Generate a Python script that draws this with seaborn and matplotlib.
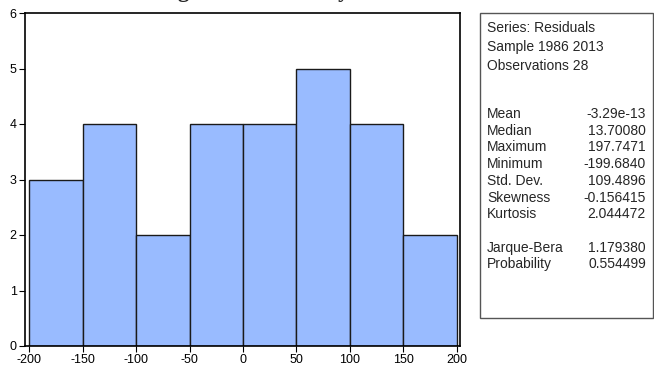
import matplotlib
matplotlib.use("Agg")
import matplotlib.pyplot as plt
import seaborn as sns
import numpy as np

# Residual histogram: bin edges and counts per bin
bin_edges = [-200, -150, -100, -50, 0, 50, 100, 150, 200]
bin_counts = [3, 4, 2, 4, 4, 5, 4, 2]
x_ticks = [-200, -150, -100, -50, 0, 50, 100, 150, 200]
y_ticks = [0, 1, 2, 3, 4, 5, 6]

# Descriptive statistics panel
header_lines = ["Series: Residuals", "Sample 1986 2013", "Observations 28"]
stat_names = ["Mean", "Median", "Maximum", "Minimum", "Std. Dev.",
              "Skewness", "Kurtosis"]
stat_values = ["-3.29e-13", "13.70080", "197.7471", "-199.6840",
               "109.4896", "-0.156415", "2.044472"]
test_names = ["Jarque-Bera", "Probability"]
test_values = ["1.179380", "0.554499"]

title_text = "Histogram - Normality Test"

sns.set_theme(style="white")
plt.rcParams["font.family"] = ["Liberation Sans", "DejaVu Sans"]
plt.rcParams["axes.unicode_minus"] = False

W, H = 654, 372
fig = plt.figure(figsize=(W / 100, H / 100), dpi=100)


def fx(px):
    return px / W


def fy(py):
    return 1 - py / H


ax = fig.add_axes([fx(25), fy(346), fx(460) - fx(25), fy(13) - fy(346)])

centers = [(a + b) / 2 for a, b in zip(bin_edges[:-1], bin_edges[1:])]
sns.histplot(x=centers, weights=bin_counts, bins=bin_edges, ax=ax,
             color="#99BBFF", alpha=1.0, edgecolor="#1a1a1a", linewidth=1.0)

ax.set_xlim(-204, 203)
ax.set_ylim(0, 6)
ax.set_xticks(x_ticks)
ax.set_yticks(y_ticks)
ax.set_xlabel("")
ax.set_ylabel("")
ax.tick_params(axis="both", direction="out", length=4, width=0.8,
               color="black", labelsize=9, pad=2, labelcolor="black",
               bottom=True, left=True)
for sp in ax.spines.values():
    sp.set_color("black")
    sp.set_linewidth(1.2)
    sp.set_visible(True)
ax.grid(False)

# Title: only its descenders fall inside the figure
fig.text(fx(260), fy(-2.5), title_text, ha="center", va="baseline",
         fontsize=16.5, fontweight="bold", family=["Liberation Serif", "DejaVu Serif"])

# Statistics box
box = plt.Rectangle((fx(480), fy(318)), fx(653) - fx(480), fy(13) - fy(318),
                    transform=fig.transFigure, fill=False,
                    edgecolor="#555555", linewidth=1.0)
fig.add_artist(box)

fam = ["Liberation Sans", "DejaVu Sans"]
fs = 10
tx_left = fx(487)
tx_right = fx(646)
header_y = [28, 47, 66]
step = 16.7
for yy, line in zip(header_y, header_lines):
    fig.text(tx_left, fy(yy), line, ha="left", va="center",
             fontsize=fs, family=fam)
y1 = 114
for i, (n, v) in enumerate(zip(stat_names, stat_values)):
    fig.text(tx_left, fy(y1 + i * step), n, ha="left", va="center",
             fontsize=fs, family=fam)
    fig.text(tx_right, fy(y1 + i * step), v, ha="right", va="center",
             fontsize=fs, family=fam)
y2 = y1 + (len(stat_names) + 1) * step
for i, (n, v) in enumerate(zip(test_names, test_values)):
    fig.text(tx_left, fy(y2 + i * step), n, ha="left", va="center",
             fontsize=fs, family=fam)
    fig.text(tx_right, fy(y2 + i * step), v, ha="right", va="center",
             fontsize=fs, family=fam)

fig.savefig("out.png", dpi=100)
